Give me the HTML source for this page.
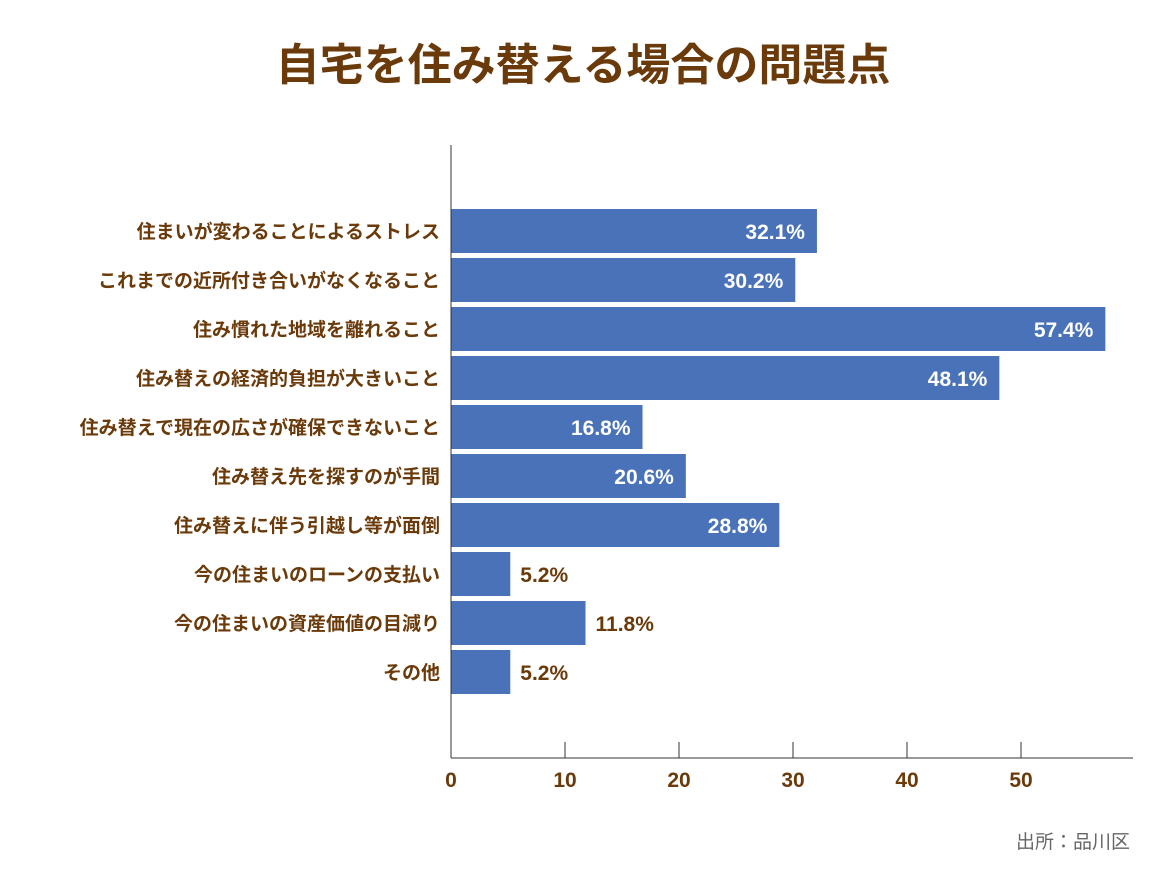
<!DOCTYPE html>
<html><head><meta charset="utf-8"><style>
body{margin:0;background:#fff;}
svg text{font-family:"Liberation Sans","Noto Sans CJK JP",sans-serif;}
</style></head><body>
<svg width="1165" height="874">
<text x="583" y="80" text-anchor="middle" font-size="44" font-weight="bold" fill="#6b3a0a">自宅を住み替える場合の問題点</text>
<g id="bars"></g>
<line x1="451" y1="145" x2="451" y2="758" stroke="#333" stroke-width="1"/>
<line x1="451" y1="758" x2="1133" y2="758" stroke="#333" stroke-width="1"/>
<g id="ticks"></g>
<text x="1130" y="848" text-anchor="end" font-size="19" fill="#666">出所：品川区</text>
</svg>
<script>
const categories=["住まいが変わることによるストレス","これまでの近所付き合いがなくなること","住み慣れた地域を離れること","住み替えの経済的負担が大きいこと","住み替えで現在の広さが確保できないこと","住み替え先を探すのが手間","住み替えに伴う引越し等が面倒","今の住まいのローンの支払い","今の住まいの資産価値の目減り","その他"];
const values=[32.1,30.2,57.4,48.1,16.8,20.6,28.8,5.2,11.8,5.2];
const tickLabels=[0,10,20,30,40,50];
const NS="http://www.w3.org/2000/svg";
const x=v=>451+v*11.4;
const y=i=>231+i*49;
const bars=document.getElementById('bars');
categories.forEach((c,i)=>{
  const r=document.createElementNS(NS,'rect');
  r.setAttribute('x',451);r.setAttribute('y',y(i)-22);
  r.setAttribute('width',x(values[i])-451);r.setAttribute('height',44);
  r.setAttribute('fill','#4a72b8');
  
  
  bars.appendChild(r);
  const l=document.createElementNS(NS,'text');
  l.setAttribute('x',440);l.setAttribute('y',y(i)+7);
  l.setAttribute('text-anchor','end');l.setAttribute('font-size','19');
  l.setAttribute('font-weight','bold');l.setAttribute('fill','#6b3a0a');
  l.textContent=c;
  
  
  bars.appendChild(l);
  const v=document.createElementNS(NS,'text');
  const inside=values[i]>15;
  v.setAttribute('x',inside?x(values[i])-12:x(values[i])+10);
  v.setAttribute('y',y(i)+8);
  v.setAttribute('text-anchor',inside?'end':'start');
  v.setAttribute('font-size','21');v.setAttribute('font-weight','bold');
  v.setAttribute('fill',inside?'#fff':'#6b3a0a');
  v.textContent=values[i].toFixed(1)+'%';
  
  
  bars.appendChild(v);
});
const ticks=document.getElementById('ticks');
tickLabels.forEach(t=>{
  const ln=document.createElementNS(NS,'line');
  ln.setAttribute('x1',x(t));ln.setAttribute('x2',x(t));
  ln.setAttribute('y1',742);ln.setAttribute('y2',758);
  ln.setAttribute('stroke','#333');
  
  
  ticks.appendChild(ln);
  const tx=document.createElementNS(NS,'text');
  tx.setAttribute('x',x(t));tx.setAttribute('y',787);
  tx.setAttribute('text-anchor','middle');tx.setAttribute('font-size','21');
  tx.setAttribute('font-weight','bold');tx.setAttribute('fill','#6b3a0a');
  tx.textContent=t;
  
  
  ticks.appendChild(tx);
});
</script>
</body></html>
